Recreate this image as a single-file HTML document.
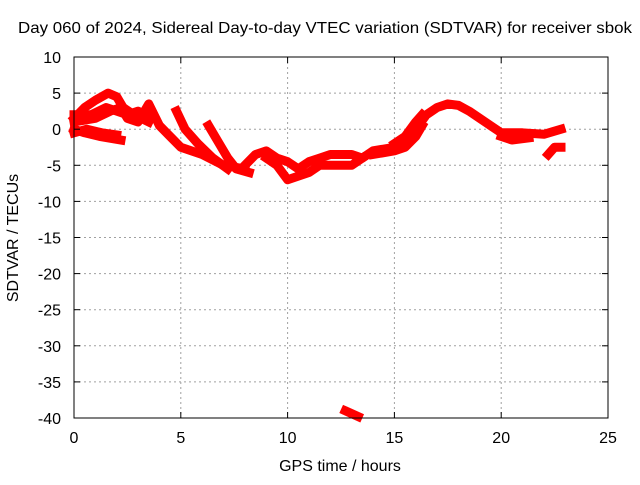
<!DOCTYPE html>
<html><head><meta charset="utf-8"><style>
body{margin:0;background:#fff}
svg text{font-family:"Liberation Sans",sans-serif;font-size:16px;fill:#000}
</style></head><body>
<svg id="chart" width="640" height="480">
<text x="325" y="33" text-anchor="middle" textLength="614" lengthAdjust="spacingAndGlyphs">Day 060 of 2024, Sidereal Day-to-day VTEC variation (SDTVAR) for receiver sbok</text>
<g id="grid"></g><g id="series"></g><g id="axes"></g>
<text x="340" y="471" text-anchor="middle">GPS time / hours</text>
<text transform="translate(18,238) rotate(-90)" text-anchor="middle">SDTVAR / TECUs</text>
</svg>
<script>
const xTicks=[0,5,10,15,20,25];
const yTicks=[10,5,0,-5,-10,-15,-20,-25,-30,-35,-40];
const traceA=[[0,1.5],[0.5,3],[1,4],[1.6,5],[2,4.5],[2.3,3],[2.8,2],[3.5,1]];
const traceB=[[0,0],[0.5,-0.5],[1.2,-1],[2.2,-1.5]];
const traceC=[[0,1],[1,1.5],[1.7,2.5],[2.2,3],[2.5,1.5],[3,1],[3.5,3.5],[4,0.5],[4.5,-1],[5,-2.5],[6,-3.5],[7,-5],[8,-5.5]];
const traceD=[[4.8,2.5],[5.2,0],[5.8,-2],[6.5,-4],[7.2,-5.5]];
const traceE=[[6.3,0.5],[6.8,-2],[7.2,-4],[7.6,-5.5],[8.2,-6]];
const traceF=[[8,-5],[8.5,-3.5],[9,-3],[9.5,-4],[10,-4.5],[10.5,-5.5],[11,-4.5],[11.5,-4],[12,-3.5],[13,-3.5],[13.5,-4],[14,-3],[15,-2.5],[15.5,-1.5],[16,0],[16.5,2],[17,3],[17.5,3.5],[18,3.3],[18.5,2.5],[19,1.5],[19.5,0.5],[20,-0.5],[20.5,-0.5],[21,-0.5],[22,-0.7],[22.8,0]];
const traceG=[[9,-4],[9.5,-5],[10,-7],[10.5,-6.5],[11,-6],[11.5,-5],[12,-5],[13,-5],[13.5,-4]];
const traceH=[[14,-3.5],[15,-3],[15.5,-2.5],[16,-1],[16.3,0.5]];
const traceI=[[20,-1],[20.5,-1.5],[21.3,-1.2]];
const traceJ=[[22.2,-3.5],[22.5,-2.5],[22.8,-2.5]];
const traceK=[[12.7,-39],[13.3,-39.8]];
const traceL=[[0,2],[0.8,2],[1.5,3],[2,2.5],[2.5,2],[3,2.5],[3.5,1.5]];
const traceM=[[0,-0.5],[0.6,0],[1.3,-0.5],[2,-0.8]];
const traceN=[[15,-2],[15.5,-1],[16,1],[16.3,2]];
const traces=[traceA,traceB,traceC,traceD,traceE,traceF,traceG,traceH,traceI,traceJ,traceK,traceL,traceM,traceN];
const L=74,R=608,T=57,B=418;
const sx=v=>L+(v-0)/25*(R-L);
const sy=v=>T+(10-v)/50*(B-T);
const NS='http://www.w3.org/2000/svg';
function mk(t,a,p){const e=document.createElementNS(NS,t);for(const k in a)e.setAttribute(k,a[k]);p.appendChild(e);return e;}
const grid=document.getElementById('grid'),axes=document.getElementById('axes'),ser=document.getElementById('series');
xTicks.forEach(v=>{
 if(v>0&&v<25){const g=mk('line',{x1:sx(v),x2:sx(v),y1:T,y2:B,stroke:'#a0a0a0','stroke-dasharray':'2,3'},grid);
 
 }
 mk('line',{x1:sx(v),x2:sx(v),y1:B,y2:B-6,stroke:'#000'},axes);
 mk('line',{x1:sx(v),x2:sx(v),y1:T,y2:T+6,stroke:'#000'},axes);
 const t=mk('text',{x:sx(v),y:B+25,'text-anchor':'middle'},axes);t.textContent=v;
 
 
});
yTicks.forEach(v=>{
 if(v<10&&v>-40){const g=mk('line',{x1:L,x2:R,y1:sy(v),y2:sy(v),stroke:'#a0a0a0','stroke-dasharray':'2,3'},grid);
 
 }
 mk('line',{x1:L,x2:L+6,y1:sy(v),y2:sy(v),stroke:'#000'},axes);
 mk('line',{x1:R,x2:R-6,y1:sy(v),y2:sy(v),stroke:'#000'},axes);
 const t=mk('text',{x:L-13,y:sy(v)+6,'text-anchor':'end'},axes);t.textContent=v;
 
 
});
const fr=mk('rect',{x:L,y:T,width:R-L,height:B-T,fill:'none',stroke:'#000','stroke-width':1},axes);


traces.forEach(tr=>{
 const p=mk('polyline',{points:tr.map(d=>sx(d[0])+','+sy(d[1])).join(' '),fill:'none',stroke:'#ff0000','stroke-width':9,'stroke-linejoin':'round','stroke-linecap':'square'},ser);
 
 
});
</script>
</body></html>
